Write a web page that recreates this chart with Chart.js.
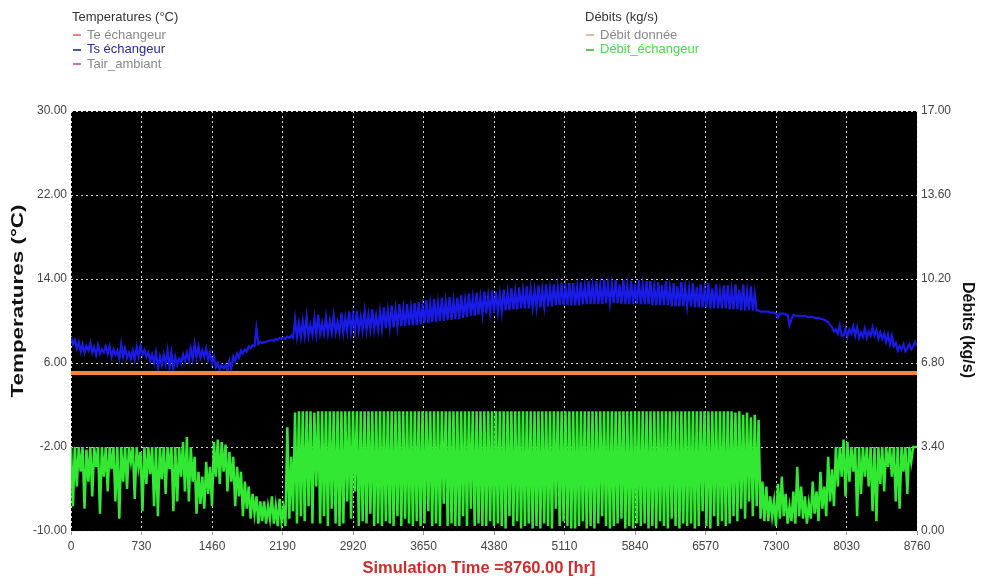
<!DOCTYPE html>
<html>
<head>
<meta charset="utf-8">
<script src="https://cdn.jsdelivr.net/npm/chart.js@4.4.1/dist/chart.umd.min.js"></script>
<style>
  body { margin: 0; background: #fff; font-family: Arial, "Liberation Sans", sans-serif; }
  #wrap { position: relative; width: 982px; height: 581px; overflow: hidden; }
  #chart { position: absolute; left: 0; top: 0; }
  .legend { position: absolute; top: 10px; font-size: 13px; line-height: 14.5px; color: #888; }
  .legend .head { color: #333; margin-bottom: 3px; }
  .legend .dash { display: inline-block; width: 8px; height: 2px; vertical-align: middle; margin-right: 6px; margin-left: 1px; }
  #xtitle { position: absolute; top: 558px; left: 0; width: 958px; text-align: center; color: #d42a2a; font-weight: bold; font-size: 16.5px; }
  .ytitle { position: absolute; width: 300px; height: 20px; line-height: 20px; text-align: center; font-weight: bold; color: #111; }
  #ytitleL { left: -132px; top: 291px; font-size: 17px; transform: rotate(-90deg) scaleX(1.32); }
  #ytitleR { left: 818px; top: 320px; font-size: 16px; transform: rotate(90deg); }
</style>
</head>
<body>
<div id="wrap">
  <canvas id="chart" width="982" height="581"></canvas>
  <div class="legend" style="left:72px">
    <div class="head">Temperatures (°C)</div>
    <div><span class="dash" style="background:#e08080"></span>Te échangeur</div>
    <div style="color:#2828a8"><span class="dash" style="background:#5050a0"></span>Ts échangeur</div>
    <div><span class="dash" style="background:#d070a8"></span>Tair_ambiant</div>
  </div>
  <div class="legend" style="left:585px">
    <div class="head">Débits (kg/s)</div>
    <div><span class="dash" style="background:#e8c090"></span>Débit donnée</div>
    <div style="color:#44dd44"><span class="dash" style="background:#60c060"></span>Débit_échangeur</div>
  </div>
  <div id="ytitleL" class="ytitle">Temperatures (°C)</div>
  <div id="ytitleR" class="ytitle">Débits (kg/s)</div>
  <div id="xtitle">Simulation Time =8760.00 [hr]</div>
</div>
<script>
// one reading every 20 hours, 0 .. 8760 (one row = 400 h)
const stepHours = 20;
const xTicks = [0, 730, 1460, 2190, 2920, 3650, 4380, 5110, 5840, 6570, 7300, 8030, 8760];

// Ts échangeur (°C)
const tsEchangeur = [
  8.5, 7.8, 8.2, 7.4, 8.0, 7.1, 7.8, 7.0, 7.6, 7.2, 7.9, 7.0, 7.5, 6.8, 7.7, 6.9, 7.3, 7.0, 7.6, 6.9,
  7.6, 6.6, 7.3, 6.8, 7.2, 6.4, 7.8, 6.6, 7.4, 6.5, 7.0, 6.4, 7.2, 6.3, 7.5, 6.6, 7.6, 6.8, 7.2, 6.6,
  7.0, 6.2, 6.8, 6.0, 7.0, 5.6, 6.6, 5.8, 6.8, 5.9, 7.2, 5.6, 7.0, 5.5, 6.6, 5.8, 6.4, 6.0, 6.8, 6.2,
  7.0, 6.2, 7.4, 6.4, 7.8, 6.6, 7.6, 6.5, 7.2, 6.6, 7.4, 6.3, 7.0, 6.0, 6.6, 5.6, 6.0, 5.4, 5.8, 5.5,
  5.8, 5.3, 6.2, 5.5, 6.6, 6.2, 6.9, 6.5, 7.2, 6.9, 7.3, 7.1, 7.6, 7.4, 7.7, 7.6, 9.3, 7.8, 8.0, 7.9,
  8.0, 8.0, 8.1, 8.1, 8.2, 8.1, 8.3, 8.2, 8.4, 8.3, 8.4, 8.3, 8.5, 8.4, 8.6, 8.4, 10.2, 8.5, 9.8, 8.5,
  10.0, 8.6, 10.4, 8.6, 9.6, 8.7, 10.3, 8.7, 10.6, 8.8, 9.8, 8.8, 10.4, 8.8, 10.0, 8.9, 10.5, 8.9, 9.9, 8.9,
  10.8, 8.9, 10.3, 9.0, 10.9, 9.0, 10.5, 9.0, 11.0, 9.1, 10.4, 9.1, 10.9, 9.1, 10.6, 9.2, 11.1, 9.2, 10.5, 9.2,
  10.9, 9.3, 11.3, 9.3, 11.0, 9.4, 11.5, 9.4, 11.1, 9.5, 11.6, 9.5, 11.2, 9.5, 11.6, 9.6, 11.3, 9.6, 11.7, 9.6,
  11.8, 9.7, 11.4, 9.8, 12.0, 9.8, 11.6, 9.9, 12.1, 9.9, 11.7, 10.0, 12.2, 10.0, 11.8, 10.1, 12.3, 10.1, 11.9, 10.2,
  12.2, 10.2, 12.5, 10.3, 12.0, 10.4, 12.6, 10.5, 12.2, 10.5, 12.7, 10.6, 12.3, 10.7, 12.8, 10.7, 12.4, 10.8, 12.9, 10.8,
  12.8, 10.9, 12.5, 10.9, 13.0, 11.0, 12.7, 11.0, 13.1, 11.1, 12.8, 11.1, 13.2, 11.2, 12.9, 11.2, 13.3, 11.2, 13.0, 11.3,
  12.9, 11.3, 13.4, 11.3, 13.0, 11.4, 13.5, 11.4, 13.1, 11.4, 13.5, 11.5, 13.2, 11.5, 13.6, 11.5, 13.2, 11.5, 13.6, 11.5,
  13.6, 11.5, 13.2, 11.5, 13.7, 11.6, 13.3, 11.6, 13.8, 11.6, 13.4, 11.6, 13.8, 11.6, 13.4, 11.6, 13.9, 11.7, 13.5, 11.7,
  13.4, 11.7, 13.9, 11.7, 13.5, 11.6, 13.9, 11.6, 13.4, 11.6, 13.8, 11.6, 13.5, 11.6, 13.9, 11.6, 13.4, 11.6, 13.8, 11.6,
  13.8, 11.5, 13.3, 11.5, 13.7, 11.5, 13.4, 11.5, 13.8, 11.5, 13.2, 11.4, 13.6, 11.4, 13.3, 11.4, 13.7, 11.4, 13.2, 11.4,
  13.1, 11.4, 13.6, 11.3, 13.2, 11.3, 13.5, 11.3, 13.0, 11.3, 13.6, 11.2, 13.1, 11.2, 13.5, 11.2, 12.8, 11.2, 13.4, 11.2,
  13.4, 11.1, 12.9, 11.1, 13.5, 11.1, 13.0, 11.0, 13.5, 11.0, 12.8, 11.0, 13.3, 11.0, 12.6, 11.0, 11.0, 10.9, 10.9, 10.9,
  10.9, 10.9, 10.8, 10.8, 10.8, 10.7, 10.3, 10.7, 10.7, 10.7, 10.6, 10.6, 9.6, 10.2, 10.6, 10.5, 10.5, 10.5, 10.5, 10.5,
  10.5, 10.4, 10.4, 10.4, 10.4, 10.3, 10.3, 10.3, 10.2, 10.2, 10.1, 10.0, 9.9, 9.6, 9.4, 9.0, 9.2, 8.8, 9.6, 8.6,
  8.6, 9.3, 8.5, 9.2, 8.8, 9.5, 8.6, 9.4, 8.4, 8.9, 8.5, 9.3, 8.4, 9.0, 8.6, 9.4, 8.6, 9.1, 8.3, 8.9,
  8.3, 8.8, 8.0, 8.7, 7.8, 8.6, 7.6, 7.9, 7.2, 7.6, 7.3, 7.8, 7.1, 7.4, 7.8, 7.3, 7.6, 8.0, 7.6
];

// Débit_échangeur (kg/s)
const debitEchangeur = [
  3.4, 1.0, 3.4, 1.8, 3.4, 2.4, 3.4, 0.9, 3.3, 2.0, 3.4, 1.4, 3.4, 2.6, 3.4, 0.7, 3.4, 2.2, 3.4, 1.6,
  3.4, 2.5, 3.4, 1.2, 3.4, 0.5, 3.4, 2.0, 3.4, 1.7, 3.4, 2.8, 3.4, 1.3, 3.4, 2.6, 3.2, 0.8, 3.4, 1.9,
  3.4, 2.3, 3.4, 1.0, 3.4, 0.6, 3.4, 2.1, 3.4, 1.5, 3.4, 2.5, 3.4, 0.8, 3.4, 1.2, 3.4, 2.2, 3.6, 1.6,
  3.8, 1.2, 3.4, 2.0, 3.0, 0.7, 2.4, 1.1, 2.2, 0.9, 2.8, 1.5, 2.6, 1.0, 3.6, 2.2, 3.7, 1.9, 3.6, 2.4,
  3.5, 1.6, 3.2, 2.0, 3.0, 1.0, 2.6, 1.4, 2.4, 0.6, 2.0, 0.9, 1.8, 0.5, 1.5, 0.7, 1.4, 0.3, 1.2, 0.4,
  1.2, 0.3, 1.0, 0.5, 1.4, 0.3, 1.0, 0.2, 1.3, 0.4, 0.9, 0.2, 4.2, 0.5, 3.0, 0.8, 4.8, 0.3, 4.85, 0.6,
  4.85, 0.4, 4.85, 1.0, 4.85, 0.3, 4.8, 1.8, 4.85, 0.3, 4.85, 0.6, 4.85, 0.2, 4.85, 0.9, 4.85, 0.3, 4.85, 0.2,
  4.85, 0.3, 4.85, 1.2, 4.85, 0.5, 4.85, 1.6, 4.85, 0.2, 4.85, 0.4, 4.85, 0.3, 4.85, 0.7, 4.85, 0.2, 4.85, 0.3,
  4.85, 0.2, 4.85, 0.4, 4.85, 0.3, 4.85, 0.2, 4.85, 0.6, 4.85, 0.2, 4.85, 0.5, 4.85, 0.3, 4.85, 0.2, 4.85, 0.4,
  4.85, 0.2, 4.85, 0.3, 4.85, 0.8, 4.85, 0.2, 4.85, 0.3, 4.85, 0.2, 4.85, 1.1, 4.85, 0.2, 4.85, 0.3, 4.85, 0.2,
  4.85, 0.2, 4.85, 0.6, 4.85, 0.2, 4.85, 0.9, 4.85, 0.2, 4.85, 0.3, 4.85, 0.2, 4.85, 0.2, 4.85, 0.4, 4.85, 0.2,
  4.85, 0.3, 4.85, 0.2, 4.85, 0.1, 4.85, 0.6, 4.85, 0.2, 4.85, 0.4, 4.85, 0.1, 4.85, 0.2, 4.85, 0.3, 4.85, 0.1,
  4.85, 0.2, 4.85, 0.1, 4.85, 0.3, 4.85, 0.2, 4.85, 0.1, 4.85, 0.9, 4.85, 0.2, 4.85, 0.4, 4.85, 0.2, 4.85, 0.1,
  4.85, 0.1, 4.85, 0.2, 4.85, 0.4, 4.85, 0.1, 4.85, 0.2, 4.85, 0.1, 4.85, 0.3, 4.85, 0.6, 4.85, 0.2, 4.85, 0.1,
  4.85, 0.2, 4.85, 0.3, 4.85, 0.5, 4.85, 0.1, 4.85, 0.2, 4.85, 0.1, 4.85, 0.3, 4.85, 0.2, 4.85, 0.3, 4.85, 0.1,
  4.85, 0.2, 4.85, 0.1, 4.85, 0.4, 4.85, 0.2, 4.85, 0.1, 4.85, 0.5, 4.85, 0.2, 4.85, 0.1, 4.85, 0.3, 4.85, 0.2,
  4.85, 0.3, 4.85, 0.1, 4.85, 0.2, 4.85, 0.8, 4.85, 0.2, 4.85, 0.1, 4.85, 0.6, 4.85, 0.2, 4.85, 0.4, 4.85, 0.2,
  4.85, 0.3, 4.85, 0.6, 4.8, 0.4, 4.85, 0.9, 4.7, 0.5, 4.8, 1.2, 4.6, 0.6, 4.7, 1.0, 4.5, 0.5, 2.0, 0.4,
  1.8, 0.4, 1.4, 0.6, 1.2, 0.2, 1.9, 0.5, 2.2, 0.6, 1.5, 0.3, 1.0, 0.4, 1.6, 0.3, 2.6, 0.6, 1.8, 0.5,
  1.4, 0.3, 1.1, 0.5, 2.0, 0.7, 1.6, 0.4, 2.4, 0.9, 1.8, 0.6, 3.0, 1.2, 2.5, 1.0, 3.4, 1.8, 3.4, 2.2,
  3.7, 1.4, 3.6, 2.0, 3.4, 2.4, 3.4, 0.6, 3.4, 1.5, 3.4, 2.2, 3.4, 1.8, 3.4, 0.8, 3.4, 0.4, 3.4, 1.9,
  3.4, 1.6, 3.4, 2.6, 3.4, 2.2, 3.4, 1.2, 3.4, 0.9, 3.4, 2.4, 3.4, 1.5, 3.4, 2.8, 3.4, 3.4, 3.4
];

// Débit donnée (kg/s), constant
const debitDonneeStart = [0, 6.4];
const debitDonneeEnd = [8760, 6.4];

const toPoints = arr => arr.map((v, i) => ({ x: i * stepHours, y: v }));

const blackArea = {
  id: 'blackArea',
  beforeDraw(chart) {
    const { ctx, chartArea: a } = chart;
    ctx.save();
    ctx.fillStyle = '#000';
    ctx.fillRect(a.left, a.top, a.right - a.left, a.bottom - a.top);
    ctx.restore();
  }
};

const tickFont = { family: 'Arial, "Liberation Sans", sans-serif', size: 12 };

new Chart(document.getElementById('chart'), {
  type: 'line',
  data: {
    datasets: [{
      label: 'Débit donnée',
      data: [{ x: debitDonneeStart[0], y: debitDonneeStart[1] }, { x: debitDonneeEnd[0], y: debitDonneeEnd[1] }],
      yAxisID: 'y2',
      borderColor: '#f5863a',
      borderWidth: 4,
      pointRadius: 0
    }, {
      label: 'Ts échangeur',
      data: toPoints(tsEchangeur),
      yAxisID: 'y',
      borderColor: '#1a1ae6',
      borderWidth: 2.2,
      pointRadius: 0
    }, {
      label: 'Débit_échangeur',
      data: toPoints(debitEchangeur),
      yAxisID: 'y2',
      borderColor: '#33e833',
      borderWidth: 2.5,
      pointRadius: 0
    }]
  },
  options: {
    responsive: false,
    animation: false,
    layout: { padding: { top: 111 } },
    plugins: { legend: { display: false }, tooltip: { enabled: false } },
    scales: {
      x: {
        type: 'linear',
        min: 0,
        max: 8760,
        afterBuildTicks: s => { s.ticks = xTicks.map(v => ({ value: v })); },
        afterFit: s => { s.height = 50; },
        ticks: { color: '#444', font: tickFont, padding: 4, maxRotation: 0, callback: v => String(v) },
        grid: { color: 'rgba(235,235,235,0.9)', lineWidth: 1, tickLength: 4, tickColor: '#999' },
        border: { display: false, dash: [2, 3] }
      },
      y: {
        position: 'left',
        min: -10,
        max: 30,
        afterFit: s => { s.width = 71; },
        ticks: { stepSize: 8, color: '#444', font: tickFont, padding: 4, callback: v => v.toFixed(2) },
        grid: { color: 'rgba(235,235,235,0.9)', lineWidth: 1, tickLength: 0 },
        border: { display: false, dash: [2, 3] }
      },
      y2: {
        position: 'right',
        min: 0,
        max: 17,
        afterFit: s => { s.width = 65; },
        ticks: { stepSize: 3.4, color: '#444', font: tickFont, padding: 4, callback: v => v.toFixed(2) },
        grid: { drawOnChartArea: false, tickLength: 0 },
        border: { display: false }
      }
    }
  },
  plugins: [blackArea]
});
</script>
</body>
</html>
